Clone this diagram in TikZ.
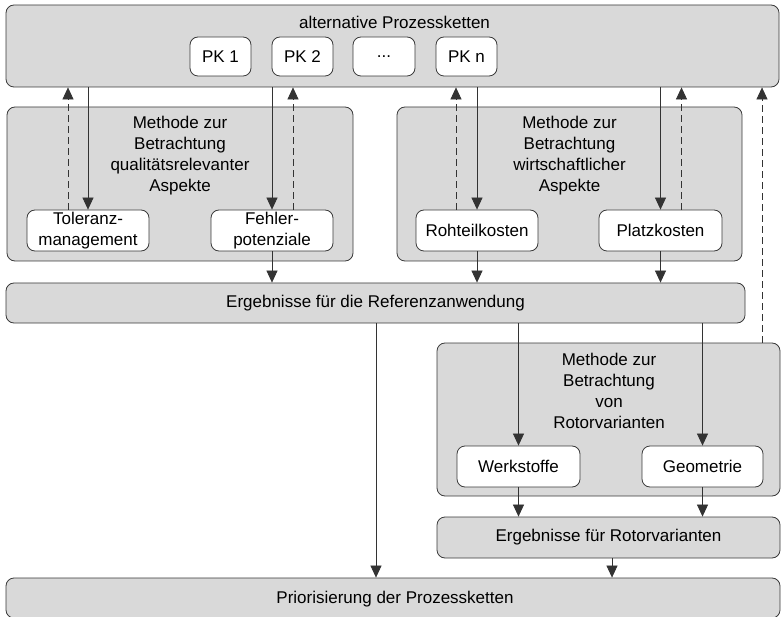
\documentclass[tikz,border=0pt]{standalone}
\usepackage{fontspec}
\setmainfont{Liberation Sans}
\usetikzlibrary{arrows.meta,calc}
\definecolor{boxgray}{HTML}{D9D9D9}
\definecolor{edgegray}{HTML}{3A3A3A}
\begin{document}
\begin{tikzpicture}[x=1pt,y=-1pt,
  font=\fontsize{17}{21}\selectfont,
  panel/.style={draw=edgegray,fill=boxgray,rounded corners=8pt,line width=0.8pt,inner sep=0pt},
  tile/.style={draw=edgegray,fill=white,rounded corners=8pt,line width=0.8pt,inner sep=0pt,align=center},
  label/.style={inner sep=0pt,align=center},
  flow/.style={draw=black!80,line width=0.7pt,-{Triangle[length=12pt,width=11pt]}},
  feedback/.style={flow,dash pattern=on 7pt off 4pt}]
\clip (0,0) rectangle (781,617);

% process chain alternatives
\node[panel,minimum width=773pt,minimum height=82pt] (top) at (392.5,46) {};
\node[label] (toptxt) at (394.5,22) {alternative Prozessketten};
\node[tile,minimum width=61pt,minimum height=39pt] (pk1) at (220.5,56.5) {PK 1};
\node[tile,minimum width=61pt,minimum height=39pt] (pk2) at (302.5,56.5) {PK 2};
\node[tile,minimum width=62pt,minimum height=39pt] (pkd) at (384,56.5) {...};
\node[tile,minimum width=61pt,minimum height=39pt] (pkn) at (466.5,56.5) {PK n};

% quality and cost methods
\node[panel,minimum width=346pt,minimum height=154pt] (qual) at (180,184) {};
\node[label] (qualtxt) at (180,155.5) {Methode zur\\Betrachtung\\qualitätsrelevanter\\Aspekte};
\node[panel,minimum width=345pt,minimum height=154pt] (wirt) at (569.5,184) {};
\node[label] (wirttxt) at (569.5,155.5) {Methode zur\\Betrachtung\\wirtschaftlicher\\Aspekte};

\node[tile,minimum width=122pt,minimum height=41pt] (tol) at (88,230.5) {Toleranz-\\management};
\node[tile,minimum width=122pt,minimum height=41pt] (feh) at (272,230.5) {Fehler-\\potenziale};
\node[tile,minimum width=122pt,minimum height=41pt] (roh) at (477,230.5) {Rohteilkosten};
\node[tile,minimum width=123pt,minimum height=41pt] (pla) at (660.5,230.5) {Platzkosten};

% reference results
\node[panel,minimum width=739pt,minimum height=40pt] (erg) at (375.5,303) {};
\node[label] (ergtxt) at (375.5,303) {Ergebnisse für die Referenzanwendung};

% rotor variants
\node[panel,minimum width=343pt,minimum height=153pt] (rot) at (608.5,419.5) {};
\node[label] (rottxt) at (609,390.5) {Methode zur\\Betrachtung\\von\\Rotorvarianten};
\node[tile,minimum width=123pt,minimum height=41pt] (wer) at (518.5,466.5) {Werkstoffe};
\node[tile,minimum width=121pt,minimum height=41pt] (geo) at (702.5,466.5) {Geometrie};
\node[panel,minimum width=343pt,minimum height=41pt] (ergr) at (608.5,537.5) {};
\node[label] (ergrtxt) at (608.5,537.5) {Ergebnisse für Rotorvarianten};

% prioritisation
\node[panel,minimum width=774pt,minimum height=40pt] (pri) at (393,598) {};
\node[label] (pritxt) at (395,599) {Priorisierung der Prozessketten};

% downward flows from the chains
\draw[flow] (top.south -| tol.north) -- (tol.north);
\draw[flow] (top.south -| feh.north) -- (feh.north);
\draw[flow] (top.south -| roh.north) -- (roh.north);
\draw[flow] (top.south -| pla.north) -- (pla.north);

% feedback to the chains
\coordinate (fb1) at ([xshift=-20pt]tol.north);
\coordinate (fb2) at ([xshift=21pt]feh.north);
\coordinate (fb3) at ([xshift=-21pt]roh.north);
\coordinate (fb4) at ([xshift=21pt]pla.north);
\coordinate (fb5) at (762,0);
\draw[feedback] (fb1) -- (fb1 |- top.south);
\draw[feedback] (fb2) -- (fb2 |- top.south);
\draw[feedback] (fb3) -- (fb3 |- top.south);
\draw[feedback] (fb4) -- (fb4 |- top.south);
\draw[feedback] (fb5 |- rot.north) -- (fb5 |- top.south);

% into the reference results
\draw[flow] (feh.south) -- (feh.south |- erg.north);
\draw[flow] (roh.south) -- (roh.south |- erg.north);
\draw[flow] (pla.south) -- (pla.south |- erg.north);

% into the rotor variants
\draw[flow] (erg.south -| wer.north) -- (wer.north);
\draw[flow] (erg.south -| geo.north) -- (geo.north);
\draw[flow] (wer.south) -- (wer.south |- ergr.north);
\draw[flow] (geo.south) -- (geo.south |- ergr.north);

% into the prioritisation
\coordinate (fe) at (376,0);
\draw[flow] (fe |- erg.south) -- (fe |- pri.north);
\coordinate (fr) at (612,0);
\draw[flow] (fr |- ergr.south) -- (fr |- pri.north);
\end{tikzpicture}
\end{document}
